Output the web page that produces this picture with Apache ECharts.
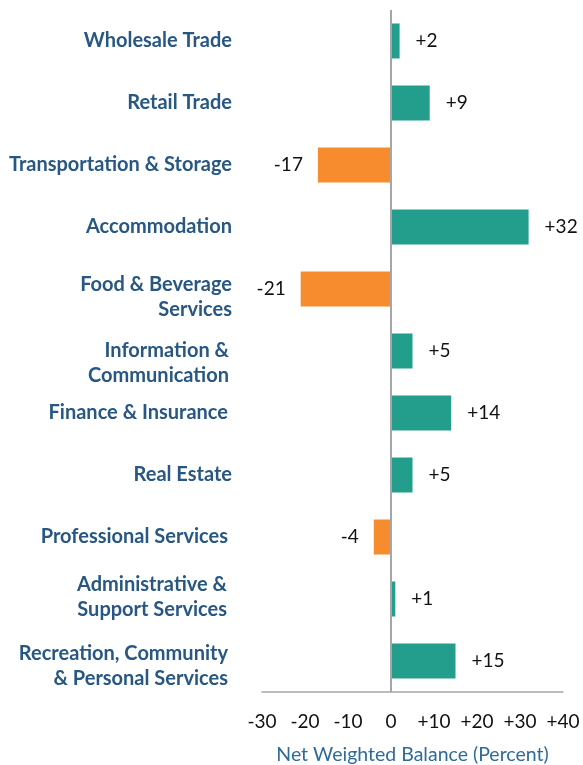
<!DOCTYPE html>
<html>
<head>
<meta charset="utf-8">
<script src="https://cdn.jsdelivr.net/npm/echarts@6/dist/echarts.min.js"></script>
<style>
html,body{margin:0;padding:0;background:#fff;}
#chart{width:583px;height:765px;}
</style>
</head>
<body>
<div id="chart"></div>
<script>
const categories = [
  "Wholesale Trade",
  "Retail Trade",
  "Transportation & Storage",
  "Accommodation",
  "Food & Beverage\nServices",
  "Information &\nCommunication",
  "Finance & Insurance",
  "Real Estate",
  "Professional Services",
  "Administrative &\nSupport Services",
  "Recreation, Community\n& Personal Services"
];
const balances = [2, 9, -17, 32, -21, 5, 14, 5, -4, 1, 15];
const xTicks = [-30, -20, -10, 0, 10, 20, 30, 40];
const axisTitle = "Net Weighted Balance (Percent)";

// label nudges (style only): [down shift px, right padding px]
const labelNudge = [[0,0],[0,0],[0,0],[0,0],[8,0],[12,3],[0,4],[0,0],[0,4],[-2,5],[5,4]];

const TEAL = "#239e8d";
const ORANGE = "#f68c2d";
const FONT = "Lato";
const LBL = "#275782";
const LH = 25;

const chart = echarts.init(document.getElementById("chart"), null, {renderer: "canvas"});

const rich = {};
labelNudge.forEach((n, i) => {
  const d = n[0];
  const base = {fontFamily: FONT, fontWeight: "bold", fontSize: 20, color: LBL, align: "right", padding: [0, n[1], 0, 0]};
  rich["a" + i] = Object.assign({}, base, {lineHeight: LH + 2 * d});
  rich["b" + i] = Object.assign({}, base, {lineHeight: LH - 2 * d});
  rich["s" + i] = Object.assign({}, base, {lineHeight: LH});
});

chart.setOption({
  animation: false,
  grid: {left: 262, right: 20, top: 10, bottom: 73, containLabel: false, outerBoundsMode: "none"},
  xAxis: {
    type: "value",
    min: xTicks[0], max: xTicks[xTicks.length - 1], interval: 10,
    axisLine: {show: true, onZero: false, lineStyle: {color: "#a6a6a6", width: 1.5}},
    axisTick: {show: false},
    splitLine: {show: false},
    axisLabel: {
      margin: 20, fontFamily: FONT, fontSize: 19, color: "#111",
      formatter: v => (v > 0 ? "+" + v : String(v))
    },
    name: axisTitle, nameLocation: "middle", nameGap: 53,
    nameTextStyle: {fontFamily: FONT, fontSize: 19.5, color: "#2f6b99"}
  },
  yAxis: {
    type: "category", inverse: true, data: categories,
    axisLine: {show: false}, axisTick: {show: false},
    axisLabel: {
      margin: 30, align: "right",
      formatter: (v, i) => {
        const lines = v.split("\n");
        if (lines.length === 1) return "{s" + i + "|" + v + "}";
        return "{a" + i + "|" + lines[0] + "}\n{b" + i + "|" + lines[1] + "}";
      },
      rich: rich
    }
  },
  series: [{
    type: "bar",
    data: balances.map(v => ({
      value: v,
      itemStyle: {color: v >= 0 ? TEAL : ORANGE},
      label: {position: v >= 0 ? "right" : "left", distance: v >= 0 ? 16 : 15}
    })),
    barWidth: 35,
    label: {
      show: true, fontFamily: FONT, fontSize: 19, color: "#111",
      formatter: p => (p.value > 0 ? "+" + p.value : String(p.value))
    },
    markLine: {
      silent: true, symbol: "none", label: {show: false},
      lineStyle: {color: "#a6a6a6", width: 2, type: "solid"},
      data: [{xAxis: 0}]
    }
  }]
});
</script>
</body>
</html>
